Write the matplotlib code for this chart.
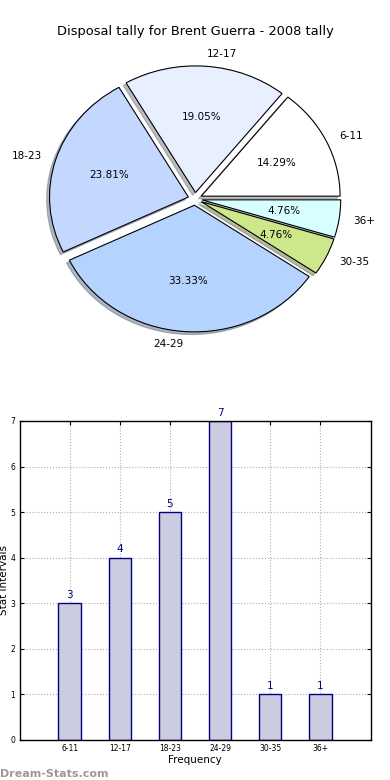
import matplotlib.pyplot as plt
import numpy as np

# data
groups = ['6-11', '12-17', '18-23', '24-29', '30-35', '36+']
counts = [3, 4, 5, 7, 1, 1]
pie_colors = ['#ffffff', '#e8f0ff', '#c4d8ff', '#b4d4ff', '#cce88a', '#d8ffff']

fig = plt.figure(figsize=(3.9, 7.8), dpi=100)

# pie
ax1 = fig.add_axes([0.055, 0.542, 0.89, 0.406])
wedges, texts, autotexts = ax1.pie(counts, labels=groups, colors=pie_colors,
                                   explode=[0.05] * len(counts),
                                   shadow={'ox': -0.015, 'oy': -0.015, 'shade': 0.5},
                                   autopct='%1.2f%%', startangle=0,
                                   wedgeprops={'linewidth': 0.8, 'edgecolor': 'black'},
                                   textprops={'fontsize': 7.5})
ax1.set_aspect('auto')
ax1.set_xlim(-1.25, 1.25)
ax1.set_ylim(-1.25, 1.25)
ax1.set_title('Disposal tally for Brent Guerra - 2008 tally', fontsize=9.4, pad=4)

# bars
ax2 = fig.add_axes([0.05, 0.0513, 0.9, 0.409])
x = np.arange(len(groups))
ax2.bar(x, counts, width=0.45, color='#ccccE0', edgecolor='#000080', linewidth=1, zorder=2)
for xi, c in zip(x, counts):
    ax2.text(xi, c + 0.07, str(c), ha='center', va='bottom', color='#000080', fontsize=7.5)
ax2.set_xlim(-1, 6)
ax2.set_ylim(0, 7)
ax2.set_xticks(x)
ax2.set_xticklabels(groups, fontsize=5.5)
ax2.set_yticks(range(8))
ax2.tick_params(axis='y', labelsize=5.5)
ax2.tick_params(direction='in', top=True, right=True, length=3, pad=3)
ax2.grid(True, linestyle=':', color='#b0b0b0', linewidth=0.8, zorder=0)
ax2.set_axisbelow(True)
ax2.set_xlabel('Frequency', fontsize=7.5, labelpad=1)
ax2.set_ylabel('Stat Intervals', fontsize=7.5, labelpad=1)
for s in ax2.spines.values():
    s.set_linewidth(1)

fig.text(0.0, 0.004, 'Dream-Stats.com', color='#999999', fontsize=8, fontweight='bold')

fig.savefig('out.png', dpi=100)
